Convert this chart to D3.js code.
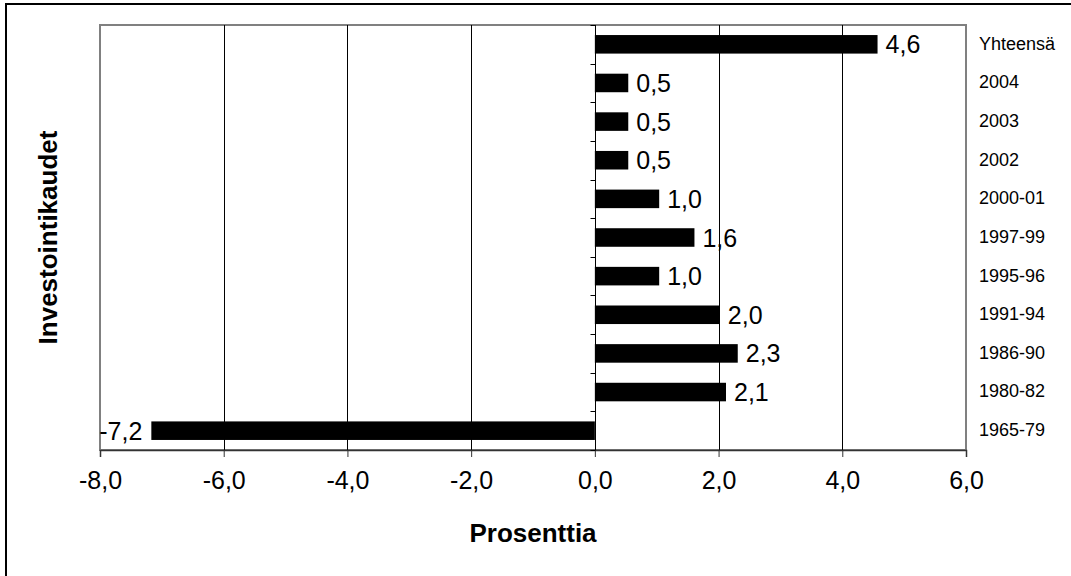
<!DOCTYPE html>
<html>
<head>
<meta charset="utf-8">
<script src="https://cdn.jsdelivr.net/npm/d3@7"></script>
<style>
  html, body { margin: 0; padding: 0; background: #fff; }
  svg { display: block; }
  text { font-family: Arial, "Liberation Sans", sans-serif; fill: #000; }
</style>
</head>
<body>
<svg id="chart" width="1071" height="576"></svg>
<script>
// Data (top to bottom as shown)
const categories = ["Yhteensä", "2004", "2003", "2002", "2000-01", "1997-99", "1995-96", "1991-94", "1986-90", "1980-82", "1965-79"];
const values = [4.57, 0.54, 0.54, 0.54, 1.04, 1.61, 1.04, 2.02, 2.31, 2.12, -7.17];
const xTicks = [-8, -6, -4, -2, 0, 2, 4, 6];
const xTitle = "Prosenttia";
const yTitle = "Investointikaudet";

(function () {
const fmt = v => v.toFixed(1).replace(".", ",");

const svg = d3.select("#chart");
const pL = 100, pR = 966, pT = 25, pB = 450;

const x = d3.scaleLinear().domain([-8, 6]).range([pL, pR]);
const y = d3.scaleBand().domain(categories).range([pT, pB]).paddingInner(0.52).paddingOuter(0.26);
const band = d3.scaleBand().domain(categories).range([pT, pB]);

// outer border (only top/left visible in reference)
svg.append("rect").attr("x", 6).attr("y", 4).attr("width", 1100).attr("height", 600)
  .attr("fill", "none").attr("stroke", "#000").attr("stroke-width", 2);

// plot frame
svg.append("rect").attr("x", pL).attr("y", pT).attr("width", pR - pL).attr("height", pB - pT)
  .attr("fill", "none").attr("stroke", "#808080").attr("stroke-width", 2);

// gridlines
svg.append("g").selectAll("line").data(xTicks.filter(t => t !== -8 && t !== 6 && t !== 0)).join("line")
  .attr("x1", d => Math.round(x(d)) + 0.5).attr("x2", d => Math.round(x(d)) + 0.5)
  .attr("y1", pT).attr("y2", pB).attr("stroke", "#000").attr("stroke-width", 1);

// x axis (bottom)
const xAxis = d3.axisBottom(x).tickValues(xTicks).tickSize(7).tickPadding(14).tickFormat(fmt);
const gx = svg.append("g").attr("transform", `translate(0,${pB})`).call(xAxis);
gx.select(".domain").attr("stroke", "#333").attr("stroke-width", 1.5);
gx.selectAll(".tick line").attr("stroke", "#333");
gx.selectAll(".tick text").style("font-size", "25px").style("font-family", "Arial, 'Liberation Sans', sans-serif").attr("fill", "#000");

// bars
svg.append("g").selectAll("rect").data(values).join("rect")
  .attr("x", d => x(Math.min(0, d)))
  .attr("width", d => Math.abs(x(d) - x(0)))
  .attr("y", (d, i) => y(categories[i]))
  .attr("height", y.bandwidth())
  .attr("fill", "#000");

// zero axis with category ticks
const x0 = Math.round(x(0)) + 0.5;
svg.append("line").attr("x1", x0).attr("x2", x0).attr("y1", pT).attr("y2", pB)
  .attr("stroke", "#000").attr("stroke-width", 1);
const bounds = categories.map(c => band(c)).concat([pB]);
svg.append("g").selectAll("line").data(bounds).join("line")
  .attr("x1", x0 - 5).attr("x2", x0).attr("y1", d => Math.round(d) + 0.5).attr("y2", d => Math.round(d) + 0.5)
  .attr("stroke", "#000");

// bar value labels
svg.append("g").selectAll("text").data(values).join("text")
  .attr("x", d => d >= 0 ? x(d) + 8 : x(d) - 9)
  .attr("y", (d, i) => band(categories[i]) + band.bandwidth() / 2)
  .attr("dy", "0.36em")
  .attr("text-anchor", d => d >= 0 ? "start" : "end")
  .style("font-size", "25px")
  .text(d => fmt(d));

// category labels on the right
svg.append("g").selectAll("text").data(categories).join("text")
  .attr("x", 979)
  .attr("y", d => band(d) + band.bandwidth() / 2)
  .attr("dy", "0.3em")
  .style("font-size", "18px")
  .text(d => d);

// axis titles
svg.append("text").attr("x", (pL + pR) / 2).attr("y", 542)
  .attr("text-anchor", "middle").style("font-size", "26px").style("font-weight", "bold").text(xTitle);
svg.append("text").attr("transform", `translate(57,${(pT + pB) / 2}) rotate(-90)`)
  .attr("text-anchor", "middle").style("font-size", "26px").style("font-weight", "bold").text(yTitle);
})();
</script>
</body>
</html>
